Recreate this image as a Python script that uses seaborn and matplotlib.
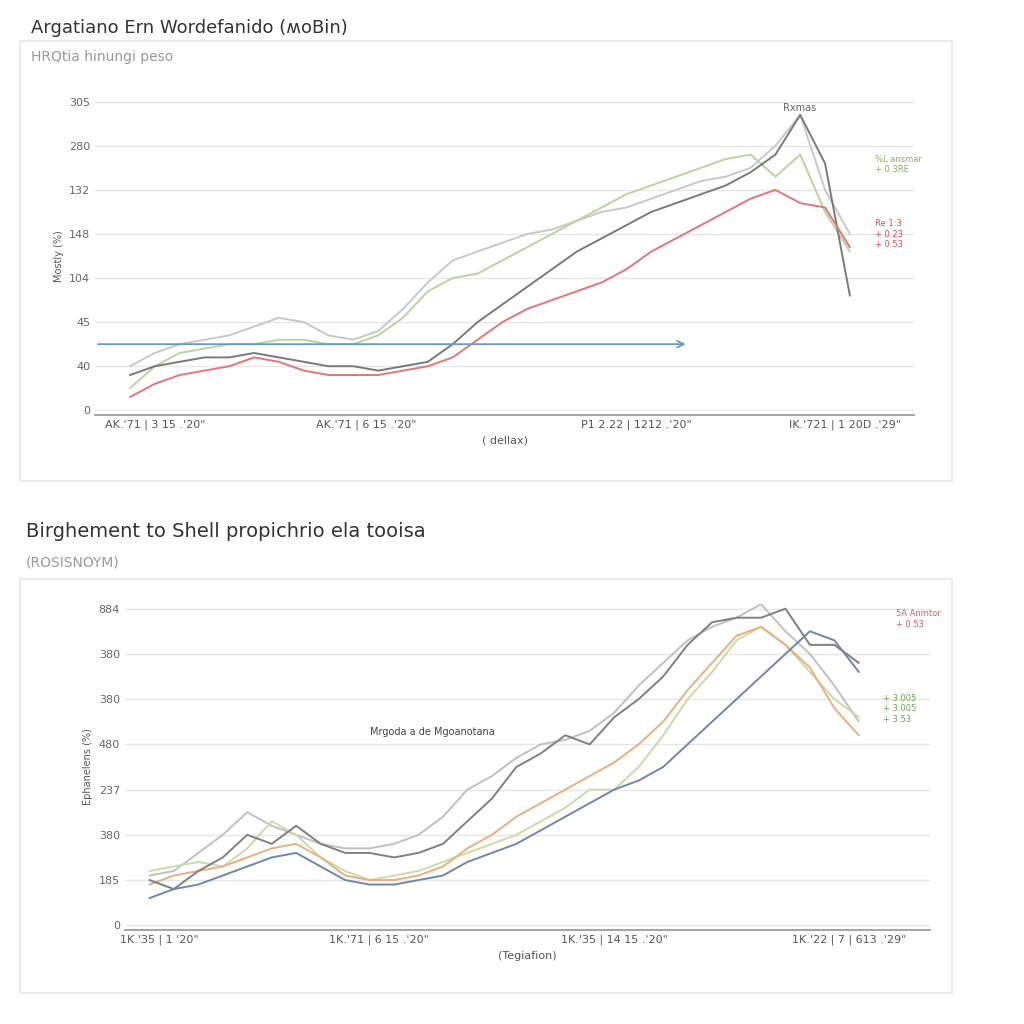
import numpy as np
import pandas as pd
import seaborn as sns
import matplotlib.pyplot as plt
from matplotlib.patches import Rectangle

sns.set_theme(style="white")

# ---- top panel data (30 points each)
top_x = list(range(30))
top_dark = [0.8, 1.0, 1.1, 1.2, 1.2, 1.3, 1.2, 1.1, 1.0, 1.0, 0.9, 1.0, 1.1, 1.5, 2.0, 2.4, 2.8, 3.2, 3.6, 3.9, 4.2, 4.5, 4.7, 4.9, 5.1, 5.4, 5.8, 6.7, 5.6, 2.6]
top_light = [1.0, 1.3, 1.5, 1.6, 1.7, 1.9, 2.1, 2.0, 1.7, 1.6, 1.8, 2.3, 2.9, 3.4, 3.6, 3.8, 4.0, 4.1, 4.3, 4.5, 4.6, 4.8, 5.0, 5.2, 5.3, 5.5, 6.0, 6.7, 5.0, 4.0]
top_green = [0.5, 1.0, 1.3, 1.4, 1.5, 1.5, 1.6, 1.6, 1.5, 1.5, 1.7, 2.1, 2.7, 3.0, 3.1, 3.4, 3.7, 4.0, 4.3, 4.6, 4.9, 5.1, 5.3, 5.5, 5.7, 5.8, 5.3, 5.8, 4.5, 3.6]
top_red = [0.3, 0.6, 0.8, 0.9, 1.0, 1.2, 1.1, 0.9, 0.8, 0.8, 0.8, 0.9, 1.0, 1.2, 1.6, 2.0, 2.3, 2.5, 2.7, 2.9, 3.2, 3.6, 3.9, 4.2, 4.5, 4.8, 5.0, 4.7, 4.6, 3.7]
top_ticks = ["0", "40", "45", "104", "148", "132", "280", "305"]
top_xlabels = ["AK.'71 | 3 15 .'20\"", "AK.'71 | 6 15 .'20\"", "P1 2.22 | 1212 .'20\"", "IK.'721 | 1 20D .'29\""]

# ---- bottom panel data
bot_x = list(range(30))
bot_dark = [1.0, 0.8, 1.2, 1.5, 2.0, 1.8, 2.2, 1.8, 1.6, 1.6, 1.5, 1.6, 1.8, 2.3, 2.8, 3.5, 3.8, 4.2, 4.0, 4.6, 5.0, 5.5, 6.2, 6.7, 6.8, 6.8, 7.0, 6.2, 6.2, 5.8]
bot_blue = [0.6, 0.8, 0.9, 1.1, 1.3, 1.5, 1.6, 1.3, 1.0, 0.9, 0.9, 1.0, 1.1, 1.4, 1.6, 1.8, 2.1, 2.4, 2.7, 3.0, 3.2, 3.5, 4.0, 4.5, 5.0, 5.5, 6.0, 6.5, 6.3, 5.6]
bot_green = [1.2, 1.3, 1.4, 1.3, 1.7, 2.3, 2.0, 1.5, 1.2, 1.0, 1.1, 1.2, 1.4, 1.6, 1.8, 2.0, 2.3, 2.6, 3.0, 3.0, 3.5, 4.2, 5.0, 5.6, 6.3, 6.6, 6.2, 5.6, 5.0, 4.6]
bot_orange = [0.9, 1.1, 1.2, 1.3, 1.5, 1.7, 1.8, 1.5, 1.1, 1.0, 1.0, 1.1, 1.3, 1.7, 2.0, 2.4, 2.7, 3.0, 3.3, 3.6, 4.0, 4.5, 5.2, 5.8, 6.4, 6.6, 6.2, 5.7, 4.8, 4.2]
bot_light = [1.1, 1.2, 1.6, 2.0, 2.5, 2.2, 2.0, 1.8, 1.7, 1.7, 1.8, 2.0, 2.4, 3.0, 3.3, 3.7, 4.0, 4.1, 4.3, 4.7, 5.3, 5.8, 6.3, 6.6, 6.8, 7.1, 6.5, 6.0, 5.3, 4.5]
bot_ticks = ["0", "185", "380", "237", "480", "380", "380", "884"]
bot_xlabels = ["1K.'35 | 1 '20\"", "1K.'71 | 6 15 .'20\"", "1K.'35 | 14 15 .'20\"", "1K.'22 | 7 | 613 .'29\""]

fig = plt.figure(figsize=(10.24, 10.24), dpi=100)
fig.patches.append(Rectangle((0.02, 0.53), 0.91, 0.43, transform=fig.transFigure,
                             fill=False, ec="#e8e8e8", lw=1.2))
fig.patches.append(Rectangle((0.02, 0.03), 0.91, 0.405, transform=fig.transFigure,
                             fill=False, ec="#e8e8e8", lw=1.2))
fig.text(0.03, 0.968, "Argatiano Ern Wordefanido (ʍoBin)", fontsize=13, color="#333333")
fig.text(0.03, 0.94, "HRQtia hinungi peso", fontsize=10, color="#999999")
fig.text(0.025, 0.476, "Birghement to Shell propichrio ela tooisa", fontsize=14, color="#333333")
fig.text(0.025, 0.447, "(ROSISNOYM)", fontsize=10, color="#999999")


def panel(ax, x, series, ticks, xlabels, xticks, xlim, xlabel):
    for vals, col, lw in series:
        sns.lineplot(x=x, y=vals, ax=ax, color=col, lw=lw)
    ax.set_ylim(-0.1, 7.1)
    ax.set_xlim(*xlim)
    ax.set_yticks(range(len(ticks)))
    ax.set_yticklabels(ticks, fontsize=8, color="#666666")
    ax.set_xticks(xticks)
    ax.set_xticklabels(xlabels, fontsize=8, color="#555555")
    ax.grid(axis="y", color="#e6e6e6", lw=1)
    for s in ["top", "right", "left"]:
        ax.spines[s].set_visible(False)
    ax.spines["bottom"].set_color("#999999")
    ax.tick_params(length=0)
    ax.set_xlabel(xlabel, fontsize=8, color="#555555")


ax1 = fig.add_axes([0.093, 0.595, 0.80, 0.31])
panel(ax1, top_x,
      [(top_light, "#c8c8c8", 1.4), (top_green, "#b8d4a0", 1.4),
       (top_dark, "#7a7a7a", 1.4), (top_red, "#e07878", 1.4)],
      top_ticks, top_xlabels, [1, 9.5, 20.4, 28.8], (-1.4, 31.6), "( dellax)")
ax1.annotate("", xy=(22.5, 1.5), xytext=(-1.4, 1.5),
             arrowprops=dict(arrowstyle="->", color="#6a9ac0", lw=1.3))
ax1.set_ylabel("Mostly (%)", fontsize=7, color="#555555")
ax1.text(26.3, 6.8, "Rxmas", fontsize=7, color="#666666")
ax1.text(30, 5.4, "%L ansmar\n+ 0.3RE", fontsize=6, color="#88b060")
ax1.text(30, 3.7, "Re 1:3\n+ 0.23\n+ 0.53", fontsize=6, color="#d05050")

ax2 = fig.add_axes([0.122, 0.092, 0.786, 0.318])
panel(ax2, bot_x,
      [(bot_light, "#c0c0c0", 1.4), (bot_green, "#c8dca8", 1.4), (bot_orange, "#e8b080", 1.4),
       (bot_dark, "#808080", 1.4), (bot_blue, "#6f86b0", 1.4)],
      bot_ticks, bot_xlabels, [0.4, 9.4, 19, 28.6], (-1, 31.9), "(Tegiafion)")
ax2.set_ylabel("Ephanelens (%)", fontsize=7, color="#555555")
ax2.text(9, 4.2, "Mrgoda a de Mgoanotana", fontsize=7, color="#444444")
ax2.text(30.5, 6.6, "5A Anmtor\n+ 0.53", fontsize=6, color="#d06070")
ax2.text(30, 4.5, "+ 3.005\n+ 3.005\n+ 3.53", fontsize=6, color="#70a050")

fig.savefig("out.png", dpi=100)
